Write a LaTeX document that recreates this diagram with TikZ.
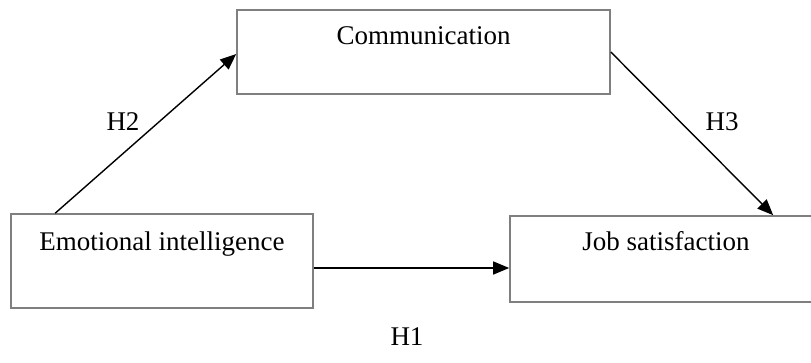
\documentclass[tikz,border=0pt]{standalone}
\usepackage{fontspec}
\setmainfont{Liberation Serif}
\usetikzlibrary{arrows.meta,calc}
\definecolor{boxline}{HTML}{7F7F7F}
\tikzset{
  varbox/.style={draw=boxline, line width=1.6pt, inner sep=0pt, rectangle},
  arr/.style={draw=black, line width=1.4pt, -{Triangle[length=16pt,width=13pt]}},
  hyp/.style={inner sep=0pt}
}
\begin{document}
\begin{tikzpicture}[x=1pt,y=-1pt,font=\fontsize{27}{31}\selectfont]
  \useasboundingbox (0,0) rectangle (811,362);
  \clip (0,0) rectangle (811,362);
  % variables
  \node[varbox, minimum width=373pt, text height=34pt, text depth=50pt] (comm) at (423.5,52) {Communication};
  \node[varbox, minimum width=302pt, text height=36pt, text depth=58pt] (ei) at (162,261) {Emotional intelligence};
  % this box runs past the right edge of the page; the trailing space keeps its text centred at x=666
  \node[varbox, minimum width=400pt, text height=34pt, text depth=52pt] (js) at (710,259) {Job satisfaction\hspace*{88pt}};
  % hypothesised paths
  \draw[arr] ([xshift=45pt]ei.north west) -- ([yshift=-2pt]comm.west);
  \draw[arr] (comm.east) -- ([xshift=264pt]js.north west);
  \draw[arr] ([yshift=-7pt]ei.east) -- ([yshift=-7pt]ei.east -| js.west);
  % path labels
  \node[hyp] (h2) at (123,122) {H2};
  \node[hyp] (h3) at (722,122) {H3};
  \node[hyp] (h1) at (407,337) {H1};
\end{tikzpicture}
\end{document}
